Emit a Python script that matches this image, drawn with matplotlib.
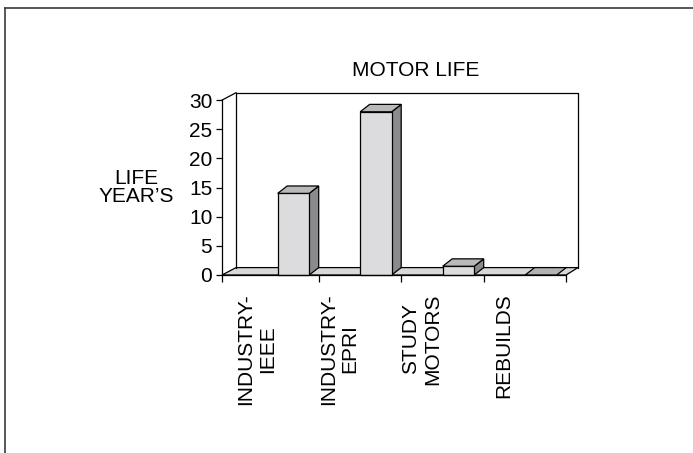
import matplotlib
matplotlib.use("Agg")
import matplotlib.pyplot as plt
from matplotlib.patches import Polygon
from matplotlib.lines import Line2D

plt.rcParams['font.family'] = ['Liberation Sans', 'DejaVu Sans']

# Data
categories = ["INDUSTRY-\nIEEE", "INDUSTRY-\nEPRI", "STUDY\nMOTORS", "REBUILDS"]
life_years = [14, 28, 1.5, 0]
y_ticks = [0, 5, 10, 15, 20, 25, 30]
title = "MOTOR LIFE"
y_label = "LIFE\nYEAR\u2019S"

W, H = 693, 453
fig = plt.figure(figsize=(W / 100, H / 100), dpi=100)
fig.patch.set_facecolor("white")

# Pseudo-3D layout (category units on x, value units on y)
x_left = -0.17          # front-left corner of the floor
x_front_end = 4.0       # front-right corner of the floor
x_back_end = 4.145      # back-right corner of the wall
DX_WALL = 0.17          # depth offset of the back wall in x
DY = 1.27               # depth offset in value units
BAR_L, BAR_R = 0.505, 0.887
DX_BAR = 0.115
YMAX = 30

px_left, px_right = 222, 578
px_zero, px_top = 275, 93.3
ax = fig.add_axes([px_left / W, (H - px_zero) / H,
                   (px_right - px_left) / W, (px_zero - px_top) / H])
ax.set_xlim(x_left, x_back_end)
ax.set_ylim(0, YMAX + DY - 0.1)
ax.patch.set_visible(False)

for s in ("top", "right"):
    ax.spines[s].set_visible(False)
ax.spines["left"].set_bounds(0, YMAX)
ax.spines["bottom"].set_bounds(x_left, x_front_end)
for s in ("left", "bottom"):
    ax.spines[s].set_linewidth(0.9)
    ax.spines[s].set_zorder(6)

ax.set_yticks(y_ticks)
ax.set_yticklabels([str(t) for t in y_ticks])
ax.tick_params(axis="y", direction="out", length=4, width=0.9, pad=3,
               labelsize=15)
ax.set_xticks([x_left, 1, 2, 3, 4])
ax.set_xticklabels([])
ax.tick_params(axis="x", which="major", direction="out", length=5, width=0.9)
ax.set_xticks([i + 0.25 for i in range(len(categories))], minor=True)
ax.set_xticklabels(categories, minor=True, rotation=90, fontsize=15,
                   multialignment="center", linespacing=1.2)
ax.tick_params(axis="x", which="minor", length=0, pad=13)

edge = dict(edgecolor="black", linewidth=0.9, clip_on=False)

# Floor
ax.add_patch(Polygon([(x_left, 0), (0, DY), (x_back_end, DY), (x_front_end, 0)],
                     closed=True, facecolor="#d9d9d9", zorder=2, **edge))

# Back wall and left wall outline
ax.add_line(Line2D([0, 0, x_back_end, x_back_end],
                   [DY, YMAX + DY, YMAX + DY, DY],
                   color="black", linewidth=0.9, clip_on=False, zorder=3))
ax.add_line(Line2D([x_left, 0], [YMAX, YMAX + DY], color="black",
                   linewidth=0.9, clip_on=False, zorder=3))

# Bars
for i, v in enumerate(life_years):
    l, r = i + BAR_L, i + BAR_R
    if v > 0:
        ax.add_patch(Polygon([(r, 0), (r + DX_BAR, DY), (r + DX_BAR, v + DY), (r, v)],
                             closed=True, facecolor="#8b8b8d", zorder=4, **edge))
        ax.add_patch(Polygon([(l, 0), (l, v), (r, v), (r, 0)],
                             closed=True, facecolor="#dcdcde", zorder=5, **edge))
        top_color = "#b9b9b9"
    else:
        top_color = "#b3b3b5"
    ax.add_patch(Polygon([(l, v), (l + DX_BAR, v + DY), (r + DX_BAR, v + DY), (r, v)],
                         closed=True, facecolor=top_color, zorder=5, **edge))

# Titles
fig.text(416 / W, 1 - 70 / H, title, ha="center", va="center", fontsize=15)
fig.text(136 / W, 1 - 187.5 / H, y_label, ha="center", va="center",
         multialignment="center", fontsize=15, linespacing=0.95)

# Outer frame (left and top edges)
frame_kw = dict(color="#3a3a3a", linewidth=1.2, transform=fig.transFigure)
fig.add_artist(Line2D([5 / W, 5 / W], [0, 1 - 8 / H], **frame_kw))
fig.add_artist(Line2D([5 / W, 1], [1 - 8 / H, 1 - 8 / H], **frame_kw))

fig.savefig("out.png", dpi=100)
